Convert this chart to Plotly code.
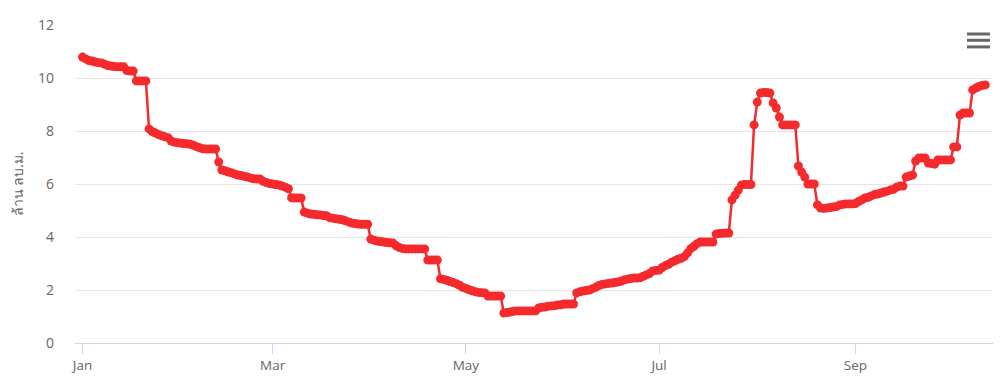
import pandas as pd
import plotly.graph_objects as go

start_date = "2024-01-01"
# daily storage values (million m3)
values = [
    10.79, 10.72, 10.66, 10.64, 10.60, 10.58, 10.57, 10.52, 10.47, 10.45,
    10.43, 10.42, 10.42, 10.42, 10.28, 10.26, 10.26, 9.89, 9.89, 9.89,
    9.89, 8.08, 7.98, 7.92, 7.87, 7.82, 7.78, 7.75, 7.62, 7.58,
    7.56, 7.54, 7.53, 7.52, 7.50, 7.46, 7.41, 7.37, 7.33, 7.32,
    7.32, 7.32, 7.32, 6.83, 6.53, 6.50, 6.45, 6.42, 6.38, 6.34,
    6.32, 6.29, 6.26, 6.23, 6.20, 6.19, 6.19, 6.10, 6.06, 6.02,
    6.00, 5.98, 5.96, 5.92, 5.88, 5.82, 5.48, 5.47, 5.47, 5.47,
    4.94, 4.90, 4.87, 4.86, 4.84, 4.83, 4.81, 4.80, 4.73, 4.71,
    4.69, 4.67, 4.65, 4.61, 4.57, 4.53, 4.51, 4.49, 4.48, 4.48,
    4.48, 3.92, 3.88, 3.85, 3.83, 3.81, 3.79, 3.78, 3.77, 3.67,
    3.60, 3.57, 3.55, 3.55, 3.55, 3.55, 3.55, 3.55, 3.55, 3.13,
    3.13, 3.13, 3.13, 2.42, 2.40, 2.37, 2.32, 2.28, 2.24, 2.18,
    2.10, 2.06, 2.01, 1.97, 1.93, 1.91, 1.90, 1.89, 1.77, 1.77,
    1.77, 1.77, 1.77, 1.13, 1.15, 1.17, 1.20, 1.21, 1.21, 1.21,
    1.21, 1.21, 1.21, 1.21, 1.32, 1.35, 1.36, 1.39, 1.40, 1.41,
    1.43, 1.44, 1.47, 1.47, 1.47, 1.47, 1.89, 1.93, 1.96, 1.98,
    2.00, 2.05, 2.10, 2.17, 2.21, 2.23, 2.25, 2.26, 2.28, 2.30,
    2.33, 2.38, 2.41, 2.43, 2.45, 2.45, 2.46, 2.52, 2.57, 2.62,
    2.72, 2.74, 2.75, 2.85, 2.92, 2.97, 3.05, 3.10, 3.16, 3.20,
    3.26, 3.40, 3.56, 3.65, 3.75, 3.81, 3.81, 3.81, 3.81, 3.81,
    4.11, 4.13, 4.14, 4.15, 4.15, 5.40, 5.58, 5.77, 5.96, 5.98,
    5.98, 5.98, 8.23, 9.09, 9.43, 9.45, 9.45, 9.43, 9.06, 8.87,
    8.53, 8.23, 8.23, 8.23, 8.23, 8.23, 6.68, 6.45, 6.26, 6.00,
    6.00, 6.00, 5.21, 5.09, 5.08, 5.09, 5.11, 5.13, 5.15, 5.21,
    5.23, 5.25, 5.25, 5.25, 5.26, 5.34, 5.40, 5.47, 5.50, 5.55,
    5.60, 5.62, 5.66, 5.70, 5.73, 5.77, 5.80, 5.88, 5.92, 5.92,
    6.26, 6.30, 6.34, 6.87, 6.98, 6.98, 6.98, 6.79, 6.77, 6.75,
    6.91, 6.91, 6.91, 6.91, 6.91, 7.40, 7.40, 8.60, 8.68, 8.68,
    8.68, 9.55, 9.62, 9.68, 9.72, 9.74,
]
dates = pd.date_range(start_date, periods=len(values), freq="D")

y_title = "ล้าน ลบ.ม."
x_range = ["2023-12-29 15:00", "2024-10-14 10:00"]
y_range = [0, 12]

fig = go.Figure()
fig.add_trace(go.Scatter(
    x=dates, y=values, mode="lines+markers",
    line=dict(color="#f52a2d", width=2.5),
    marker=dict(color="#f52a2d", size=9),
    hoverinfo="x+y", showlegend=False,
))

font_family = "Open Sans, DejaVu Sans, sans-serif"
fig.update_layout(
    width=995, height=374,
    margin=dict(l=67, r=10, t=17, b=39),
    paper_bgcolor="white", plot_bgcolor="white",
    font=dict(family=font_family, size=13, color="#666666"),
    xaxis=dict(
        type="date", range=x_range, automargin=False,
        tick0="2024-01-01", dtick="M2", tickformat="%b",
        showgrid=False, showline=True, linecolor="#ccd6eb", linewidth=1,
        ticks="outside", ticklen=10, tickcolor="#ccd6eb", tickwidth=1,
        tickfont=dict(size=13.5, color="#666666"), zeroline=False,
    ),
    yaxis=dict(
        range=y_range, dtick=2, showgrid=True, gridcolor="#e6e6e6",
        zeroline=False, showline=False, ticks="", ticklabelstandoff=20,
        automargin=False,
        tickfont=dict(size=14, color="#666666"),
        title=dict(text=y_title, font=dict(size=14, color="#666666"), standoff=12),
    ),
)

# context-menu (hamburger) icon
for yy in (0.9717, 0.9519, 0.9311):
    fig.add_shape(type="line", xref="paper", yref="paper",
                  x0=0.9717, x1=0.9967, y0=yy, y1=yy,
                  line=dict(color="#666666", width=3))

fig.write_html("out.html", config={"displayModeBar": False})
